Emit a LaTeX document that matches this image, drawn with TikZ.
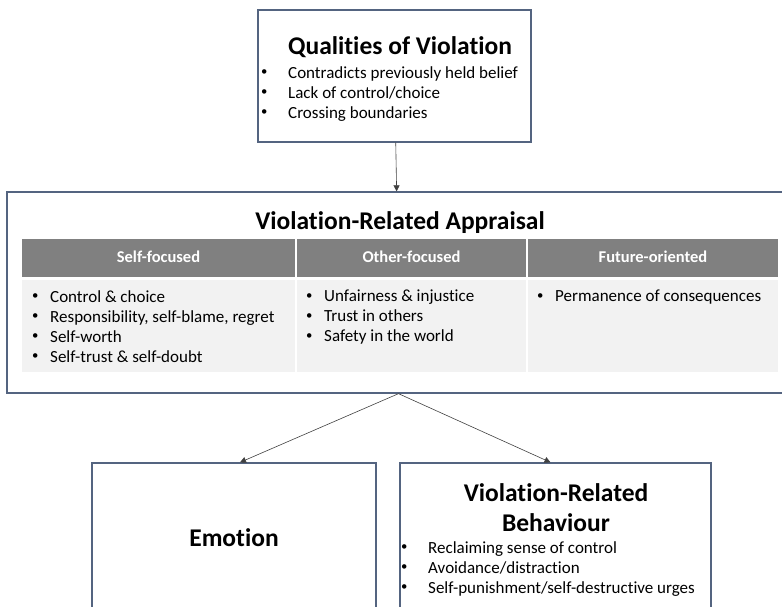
\documentclass[tikz,border=0pt]{standalone}
\usepackage{fontspec}
\setmainfont{Carlito}[Ligatures=NoCommon]
\usetikzlibrary{arrows.meta}

\definecolor{framecol}{RGB}{84,100,128}
\definecolor{headgray}{RGB}{128,128,128}
\definecolor{cellgray}{RGB}{242,242,242}
\definecolor{arrowcol}{RGB}{64,64,64}

% bullet items: wide indent for the boxes, narrow one for the table cells
\newcommand{\smallbul}{\raisebox{0.3ex}{\scalebox{0.75}{\textbullet}}}
\newcommand{\bitem}[1]{\makebox[27pt][l]{\smallbul}#1}
\newcommand{\citem}[1]{\makebox[18pt][l]{\smallbul}#1}

\begin{document}
\begin{tikzpicture}[x=1pt,y=-1pt]
	\tikzstyle{box}=[draw=framecol,line width=1.3pt,fill=white,inner sep=0pt]
	\tikzstyle{head}=[fill=headgray,text=white,inner sep=0pt,text depth=2pt,font=\fontsize{16.5}{20}\selectfont\bfseries]
	\tikzstyle{cell}=[fill=cellgray,inner sep=0pt]
	\tikzstyle{title}=[font=\fontsize{25.5}{30}\selectfont\bfseries]
	\tikzstyle{items}=[anchor=north west,align=left,inner sep=0pt,font=\fontsize{17}{20}\selectfont]
	\tikzstyle{link}=[arrowcol,line width=0.6pt,-{Triangle[width=6pt,length=6pt]}]
	\useasboundingbox (0,0) rectangle (782,606);
	\clip (0,0) rectangle (782,606);

	% top box
	\node[box,minimum width=273pt,minimum height=132pt](quality) at (394.5,76){};
	\node[title](qtitle) at (400,47){Qualities of Violation};
	\node[items](qlist) at (261,66){\bitem{Contradicts previously held belief}\\
		\bitem{Lack of control/choice}\\
		\bitem{Crossing boundaries}};

	% appraisal box with its table
	\node[box,minimum width=783pt,minimum height=201pt](appraisal) at (398.5,292.5){};
	\node[title](atitle) at (400,223){Violation-Related Appraisal};
	\node[head,minimum width=273pt,minimum height=38pt](self) at (158.5,258){Self-focused};
	\node[head,minimum width=229pt,minimum height=38pt](other) at (411.5,258){Other-focused};
	\node[head,minimum width=250pt,minimum height=38pt](future) at (653,258){Future-oriented};
	\node[cell,minimum width=273pt,minimum height=92pt](selfbody) at (158.5,326){};
	\node[cell,minimum width=229pt,minimum height=92pt](otherbody) at (411.5,326){};
	\node[cell,minimum width=250pt,minimum height=92pt](futurebody) at (653,326){};
	\node[items](selflist) at (32,290){\citem{Control \& choice}\\
		\citem{Responsibility, self-blame, regret}\\
		\citem{Self-worth}\\
		\citem{Self-trust \& self-doubt}};
	\node[items](otherlist) at (306,290){\citem{Unfairness \& injustice}\\
		\citem{Trust in others}\\
		\citem{Safety in the world}};
	\node[items](futurelist) at (537,290){\citem{Permanence of consequences}};

	% bottom boxes
	\node[box,minimum width=284pt,minimum height=160pt](emotion) at (234,543){};
	\node[title](etitle) at (234,538){Emotion};
	\node[box,minimum width=311pt,minimum height=160pt](behaviour) at (555.5,543){};
	\node[title,align=center](btitle) at (556,508){Violation-Related\\Behaviour};
	\node[items](blist) at (401,541){\bitem{Reclaiming sense of control}\\
		\bitem{Avoidance/distraction}\\
		\bitem{Self-punishment/self-destructive urges}};

	\path[link]
		(quality) edge (appraisal)
		(appraisal.south) edge ([xshift=6pt]emotion.north)
		(appraisal.south) edge ([xshift=-5pt]behaviour.north);
\end{tikzpicture}
\end{document}
